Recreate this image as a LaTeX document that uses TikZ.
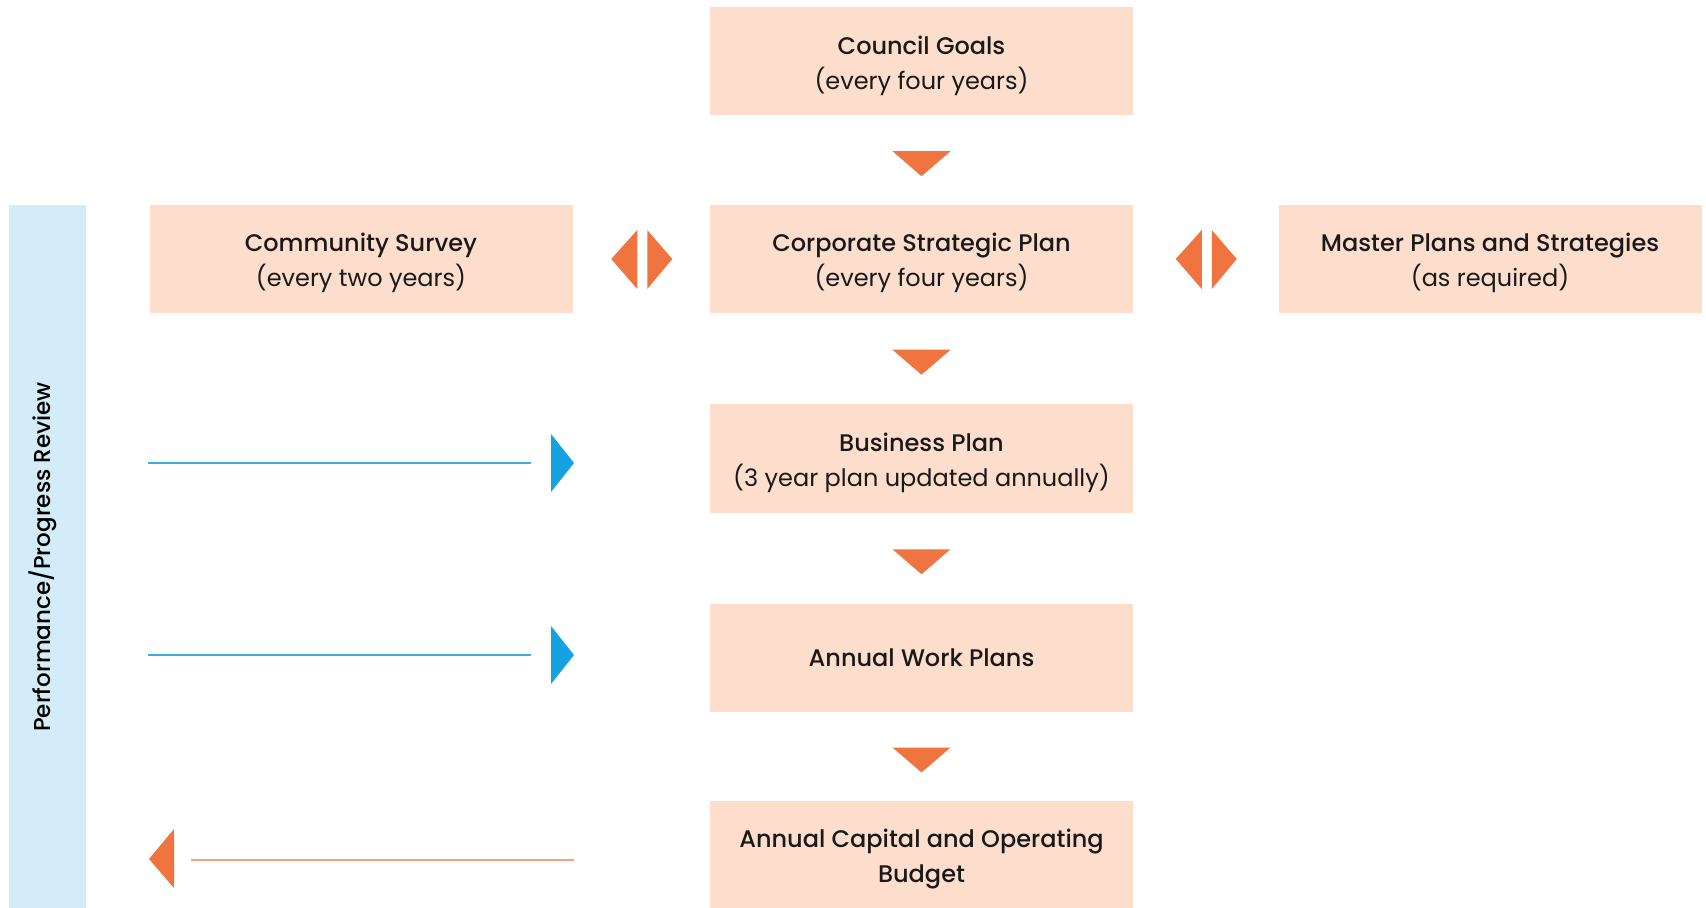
\documentclass[tikz,border=0pt]{standalone}
\usepackage{fontspec}
\usetikzlibrary{calc}
\setmainfont{Poppins}
\newfontfamily\medfont{Poppins Medium}
\definecolor{peach}{RGB}{253,222,205}
\definecolor{orng}{RGB}{240,116,64}
\definecolor{orngline}{RGB}{244,160,130}
\definecolor{bandblue}{RGB}{211,236,248}
\definecolor{arrblue}{RGB}{20,163,224}
\definecolor{lineblue}{RGB}{60,174,224}
\tikzset{
  box/.style={fill=peach, minimum width=211.5pt, minimum height=54pt, inner sep=0pt, align=center, font=\fontsize{12}{17.5}\selectfont, text=black!90},
  tri/.style={fill=orng},
}
\newcommand{\ttl}[1]{{\medfont\rule{0pt}{13.5pt}#1}}
\begin{document}
\begin{tikzpicture}[x=0.5pt,y=-0.5pt]
\useasboundingbox (0,0) rectangle (1706,908);
% band
\fill[bandblue] (9,205) rectangle (86,908);
\node[rotate=90, font=\medfont\fontsize{11.5}{14}\selectfont] (band) at (43,557) {Performance/Progress Review};
% boxes
\node[box] (cg) at (921.5,61.5) {\ttl{Council Goals}\\(every four years)};
\node[box] (csp) at (921.5,259) {\ttl{Corporate Strategic Plan}\\(every four years)};
\node[box] (cs) at (361,259) {\ttl{Community Survey}\\(every two years)};
\node[box] (mp) at (1490,259) {\ttl{Master Plans and Strategies}\\(as required)};
\node[box] (bp) at (921.5,458.5) {\ttl{Business Plan}\\(3 year plan updated annually)};
\node[box] (awp) at (921.5,658) {{\medfont Annual Work Plans}};
\node[box] (acb) at (921.5,855) {\ttl{Annual Capital and Operating}\\{\medfont Budget}};
% down arrows between boxes
\foreach \a/\b in {cg/csp, csp/bp, bp/awp, awp/acb}{
  \coordinate (m) at ($(\a.south)!0.5!(\b.north)$);
  \fill[tri] ([shift={(-29,-9)}]m) -- ([shift={(29,-9)}]m) -- ([shift={(0,16)}]m) -- cycle;
}
% double arrows
\coordinate (dl) at ($(cs.east)!0.5!(csp.west)$);
\coordinate (dr) at ($(csp.east)!0.5!(mp.west)$);
\foreach \c in {dl, dr}{
  \fill[tri] ([shift={(-4,-29)}]\c) -- ([shift={(-4,30)}]\c) -- ([shift={(-30,0)}]\c) -- cycle;
  \fill[tri] ([shift={(6,-29)}]\c) -- ([shift={(6,30)}]\c) -- ([shift={(31,0)}]\c) -- cycle;
}
% blue review arrows
\coordinate (b1s) at (148,463);
\coordinate (b1e) at (574,463);
\draw[lineblue, line width=1pt] (b1s) -- ([shift={(-43,0)}]b1e);
\fill[arrblue] ([shift={(-23,-29)}]b1e) -- ([shift={(-23,29)}]b1e) -- (b1e) -- cycle;
\coordinate (b2s) at (148,655);
\coordinate (b2e) at (574,655);
\draw[lineblue, line width=1pt] (b2s) -- ([shift={(-43,0)}]b2e);
\fill[arrblue] ([shift={(-23,-29)}]b2e) -- ([shift={(-23,29)}]b2e) -- (b2e) -- cycle;
% orange feedback arrow
\coordinate (o1s) at (574,860);
\coordinate (o1e) at (149,859);
\draw[orngline, line width=1pt] (o1s) -- ([shift={(42,1)}]o1e);
\fill[orng] ([shift={(25,-30)}]o1e) -- ([shift={(25,29)}]o1e) -- (o1e) -- cycle;
\end{tikzpicture}
\end{document}
